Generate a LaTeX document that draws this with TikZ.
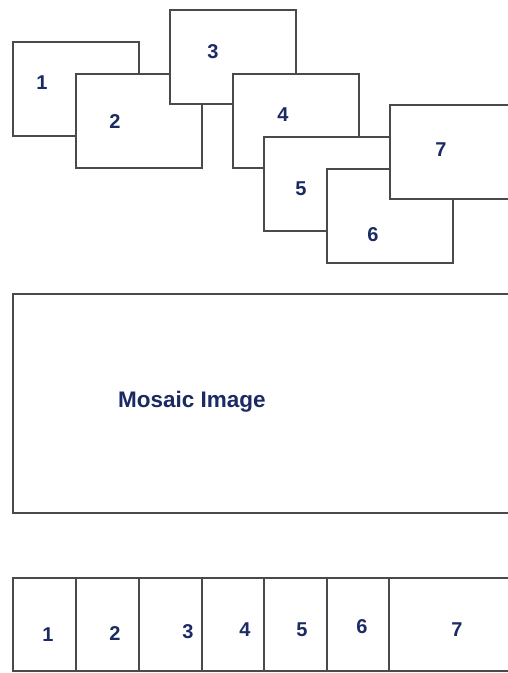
\documentclass[tikz,border=0pt]{standalone}
\usepackage{fontspec}
\setmainfont{Liberation Sans}
\usetikzlibrary{positioning}
\definecolor{TileEdge}{HTML}{4A4A4A}
\definecolor{LabelNavy}{HTML}{1B2A63}

\begin{document}
\begin{tikzpicture}[x=1pt,y=-1pt,
  tile/.style={draw=TileEdge,fill=white,line width=1.8pt,inner sep=0pt,
    minimum width=126pt,minimum height=94pt,anchor=north west},
  cell/.style={draw=TileEdge,line width=1.8pt,inner sep=0pt,
    minimum height=93pt,anchor=north west},
  num/.style={text=LabelNavy,inner sep=0pt,font=\bfseries\fontsize{20}{20}\selectfont}]
 \useasboundingbox (0,0) rectangle (508,673);
 \begin{scope}
 \clip (0,0) rectangle (508,673);
 % overlapping source tiles
 \foreach \n/\x/\y/\lx/\ly in {1/12/41/42/83,2/75/73/115/122,3/169/9/213/52,
   4/232/73/283/115,5/263/136/301/189,6/326/168/373/235,7/389/104/441/150}{
   \node[tile] (tile\n) at (\x,\y) {};
   \node[num] (lab\n) at (\lx,\ly) {\n};}
 % mosaic
 \node[tile,minimum width=510pt,minimum height=219pt] (mosaic) at (12,293) {};
 \node[num,font=\bfseries\fontsize{22.5}{22.5}\selectfont] (mosaiclab) at (192,402) {Mosaic Image};
 % strip of cut tiles
 \foreach \n/\x/\w/\lx/\ly in {1/12/63/48/635,2/75/63/115/634,3/138/63/188/632,
   4/201/62/245/630,5/263/63/302/630,6/326/62/362/627,7/388/130/457/630}{
   \node[cell,minimum width=\w pt] (cell\n) at (\x,577) {};
   \node[num] (cut\n) at (\lx,\ly) {\n};}
 \end{scope}
\end{tikzpicture}
\end{document}
